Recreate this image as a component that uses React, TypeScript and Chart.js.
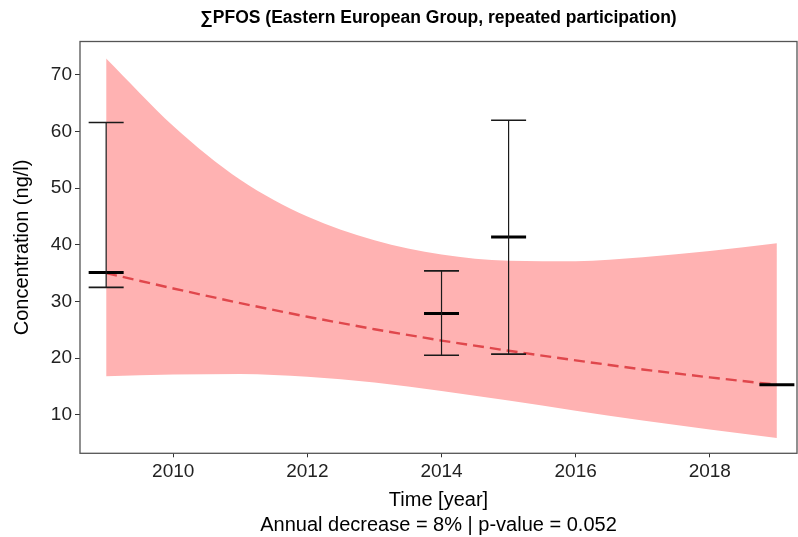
import React, { useEffect, useRef } from "react";
import { Chart, registerables } from "chart.js";

Chart.register(...registerables);

const TITLE = "∑PFOS (Eastern European Group, repeated participation)";
const SUBTITLE = "Annual decrease = 8% | p-value = 0.052";
const X_TITLE = "Time [year]";
const Y_TITLE = "Concentration (ng/l)";

const X_TICKS = [2010, 2012, 2014, 2016, 2018];
const Y_TICKS = [10, 20, 30, 40, 50, 60, 70];

// Observations (mean with min/max whiskers)
const OBS_YEARS = [2009, 2014, 2015, 2019];
const OBS_MEAN = [35.1, 27.9, 41.4, 15.3];
const OBS_LOW = [32.5, 20.5, 20.7, 15.3];
const OBS_HIGH = [61.6, 35.4, 62.0, 15.3];

// Trend and confidence band
const FIT_YEARS = [2009, 2010, 2011, 2012, 2013, 2014, 2015, 2016, 2017, 2018, 2019];
const FIT_TREND = [35.0, 32.3, 29.7, 27.3, 25.1, 23.1, 21.3, 19.6, 18.0, 16.6, 15.3];
const FIT_UPPER = [72.9, 61.0, 51.5, 45.0, 40.8, 38.3, 37.2, 37.1, 37.8, 38.9, 40.3];
const FIT_LOWER = [16.8, 17.1, 17.2, 16.7, 15.7, 14.2, 12.5, 10.7, 9.0, 7.4, 5.9];

const FONT = "'Liberation Sans', Arial, sans-serif";

export default function App() {
  const ref = useRef<HTMLCanvasElement | null>(null);

  useEffect(() => {
    if (!ref.current) return;

    const whiskerPlugin = {
      id: "whiskers",
      afterDatasetsDraw(chart: any) {
        const { ctx, scales } = chart;
        const xs = scales.x;
        const ys = scales.y;
        ctx.save();
        ctx.strokeStyle = "#1a1a1a";
        OBS_YEARS.forEach((yr, i) => {
          if (OBS_LOW[i] === OBS_HIGH[i]) return;
          const px = xs.getPixelForValue(yr);
          const pLo = ys.getPixelForValue(OBS_LOW[i]);
          const pHi = ys.getPixelForValue(OBS_HIGH[i]);
          ctx.lineWidth = 1.2;
          ctx.beginPath();
          ctx.moveTo(px, pLo);
          ctx.lineTo(px, pHi);
          ctx.stroke();
          ctx.lineWidth = 1.6;
          ctx.beginPath();
          ctx.moveTo(px - 17.5, pLo);
          ctx.lineTo(px + 17.5, pLo);
          ctx.moveTo(px - 17.5, pHi);
          ctx.lineTo(px + 17.5, pHi);
          ctx.stroke();
        });
        ctx.restore();
      },
      afterDraw(chart: any) {
        const { ctx, chartArea } = chart;
        ctx.save();
        ctx.strokeStyle = "#555";
        ctx.lineWidth = 1.3;
        ctx.strokeRect(chartArea.left, chartArea.top, chartArea.right - chartArea.left, chartArea.bottom - chartArea.top);
        const cx = (chartArea.left + chartArea.right) / 2;
        ctx.fillStyle = "#000";
        ctx.textAlign = "center";
        ctx.textBaseline = "middle";
        ctx.font = `bold 17.5px ${FONT}`;
        ctx.fillText(TITLE, cx, 18);
        ctx.font = `20px ${FONT}`;
        ctx.fillText(SUBTITLE, cx, 525);
        ctx.restore();
      },
    };

    const chart = new Chart(ref.current, {
      type: "scatter",
      data: {
        datasets: [
          {
            label: "Mean",
            data: OBS_YEARS.map((x, i) => ({ x, y: OBS_MEAN[i] })),
            pointStyle: "line",
            pointRadius: 17.5,
            pointHoverRadius: 17.5,
            borderColor: "#000",
            backgroundColor: "#000",
            borderWidth: 3,
            showLine: false,
            clip: false,
            order: 0,
          },
          {
            label: "Trend",
            data: FIT_YEARS.map((x, i) => ({ x, y: FIT_TREND[i] })),
            showLine: true,
            borderColor: "#e0474c",
            borderWidth: 2.4,
            borderDash: [11, 6],
            pointRadius: 0,
            fill: false,
            order: 1,
          },
          {
            label: "Upper",
            data: FIT_YEARS.map((x, i) => ({ x, y: FIT_UPPER[i] })),
            showLine: true,
            borderWidth: 0,
            borderColor: "rgba(0,0,0,0)",
            backgroundColor: "rgb(255,178,178)",
            pointRadius: 0,
            cubicInterpolationMode: "monotone",
            fill: "+1",
            order: 2,
          },
          {
            label: "Lower",
            data: FIT_YEARS.map((x, i) => ({ x, y: FIT_LOWER[i] })),
            showLine: true,
            borderWidth: 0,
            borderColor: "rgba(0,0,0,0)",
            pointRadius: 0,
            cubicInterpolationMode: "monotone",
            fill: false,
            order: 3,
          },
        ],
      },
      options: {
        animation: false,
        responsive: false,
        maintainAspectRatio: false,
        layout: { autoPadding: false, padding: { top: 41.5, right: 1, left: 0, bottom: 0 } },
        plugins: {
          legend: { display: false },
          tooltip: { enabled: false },
          title: { display: false },
        },
        scales: {
          x: {
            type: "linear",
            min: 2008.61,
            max: 2019.3,
            afterBuildTicks: (s: any) => {
              s.ticks = X_TICKS.map((v) => ({ value: v }));
            },
            afterFit: (s: any) => {
              s.height = 537 - 453.3;
              s.paddingLeft = 0;
              s.paddingRight = 0;
            },
            grid: { display: true, drawOnChartArea: false, drawTicks: true, tickLength: 4, tickColor: "#333" },
            border: { display: false },
            ticks: {
              font: { family: FONT, size: 19 },
              color: "#222",
              padding: 3,
              maxRotation: 0,
              callback: (v: any) => String(v),
            },
            title: { display: true, text: X_TITLE, font: { family: FONT, size: 20 }, color: "#000", padding: { top: 0, bottom: 25 } },
          },
          y: {
            type: "linear",
            min: 3.2,
            max: 75.9,
            afterBuildTicks: (s: any) => {
              s.ticks = Y_TICKS.map((v) => ({ value: v }));
            },
            afterFit: (s: any) => {
              s.width = 80;
              s.paddingTop = 0;
              s.paddingBottom = 0;
            },
            grid: { display: true, drawOnChartArea: false, drawTicks: true, tickLength: 5, tickColor: "#333" },
            border: { display: false },
            ticks: { font: { family: FONT, size: 19 }, color: "#222", padding: 3, callback: (v: any) => String(v) },
            title: { display: true, text: Y_TITLE, font: { family: FONT, size: 20 }, color: "#000", padding: { top: 10, bottom: 0 } },
          },
        },
      },
      plugins: [whiskerPlugin],
    } as any);

    return () => chart.destroy();
  }, []);

  return (
    <div style={{ position: "fixed", left: 0, top: 0, width: 798, height: 537, background: "#fff" }}>
      <canvas ref={ref} width={798} height={537} style={{ width: 798, height: 537 }} />
    </div>
  );
}
